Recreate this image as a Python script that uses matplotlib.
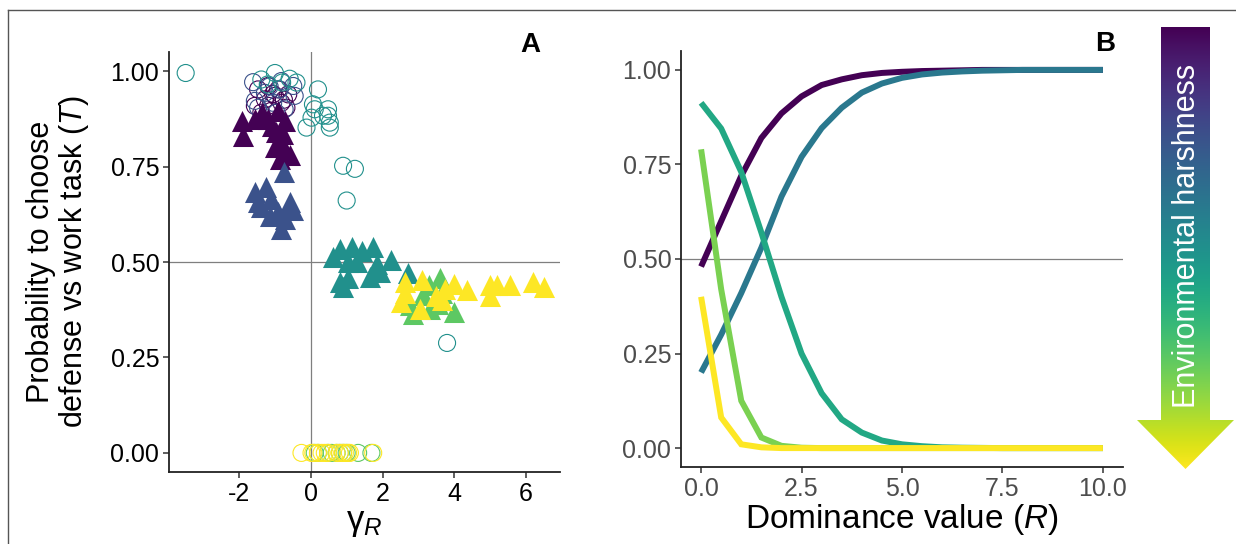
import numpy as np
import matplotlib
matplotlib.use("Agg")
import matplotlib.pyplot as plt
from matplotlib.patches import Polygon
from matplotlib.lines import Line2D

plt.rcParams['font.family'] = ['Liberation Sans', 'DejaVu Sans']
plt.rcParams['mathtext.fontset'] = 'custom'
plt.rcParams['mathtext.rm'] = 'Liberation Sans'
plt.rcParams['mathtext.it'] = 'Liberation Sans:italic'
plt.rcParams['axes.unicode_minus'] = False

# viridis levels used in the two panels
colors_a = ['#440154', '#3B528B', '#21908C', '#5DC863', '#FDE725']
colors_b = ['#440154', '#2A788E', '#22A884', '#7AD151', '#FDE725']

# Panel A: open circles (gamma_R, probability)
purple_circ_x = [-1.47, -1.19, -1.28, -1.56, -1.0, -0.82, -0.63, -1.1, -1.38, -0.91, -0.68, -1.19, -1.05, -0.75]
purple_circ_y = [0.952, 0.961, 0.926, 0.909, 0.935, 0.917, 0.939, 0.896, 0.891, 0.952, 0.904, 0.909, 0.94, 0.925]
blue_circ_x = [-1.61, -1.56, -1.28, -0.82, -0.49, -0.45, -0.73, -1.47, -1.05, -0.87, -0.96, -1.15]
blue_circ_y = [0.971, 0.922, 0.943, 0.974, 0.961, 0.935, 0.900, 0.904, 0.917, 0.952, 0.891, 0.96]
teal_circ_x = [-3.49, -1.0, -0.59, -0.4, -1.38, 0.2, 0.06, 0.11, -0.12, 0.48, 0.48, 0.53, 0.53, 0.34,
               0.02, 0.9, 1.23, 1.0, 3.8, -0.8, -1.2]
teal_circ_y = [0.995, 0.995, 0.98, 0.97, 0.978, 0.952, 0.913, 0.90, 0.852, 0.90, 0.883, 0.865, 0.852, 0.883,
               0.878, 0.752, 0.744, 0.661, 0.288, 0.97, 0.965]
green_circ_x = [0.11, 0.2, 0.48, 0.58, 0.72, 0.81, 0.9, 1.0, 1.32, 1.69]
green_circ_y = [0.0] * 10
yellow_circ_x = [-0.26, 0.02, 0.07, 0.2, 0.3, 0.39, 0.48, 0.72, 0.81, 0.9, 0.95, 1.04, 1.09, 1.74]
yellow_circ_y = [0.0] * 14

# Panel A: filled triangles
purple_tri_x = [-1.93, -1.90, -1.56, -1.37, -1.2, -0.92, -0.73, -0.98, -0.87, -0.78, -1.0, -0.73, -0.87, -0.59, -1.09]
purple_tri_y = [0.87, 0.83, 0.875, 0.89, 0.875, 0.895, 0.87, 0.84, 0.82, 0.835, 0.80, 0.79, 0.77, 0.78, 0.855]
blue_tri_x = [-0.75, -1.56, -1.24, -1.47, -1.1, -0.91, -0.59, -0.49, -0.73, -0.82, -1.15, -1.38]
blue_tri_y = [0.735, 0.683, 0.696, 0.656, 0.666, 0.63, 0.656, 0.635, 0.613, 0.587, 0.62, 0.643]
teal_tri_x = [0.81, 1.14, 1.42, 1.74, 0.62, 1.04, 1.28, 1.84, 2.25, 1.93, 1.65, 0.81, 1.04, 2.72, 0.9]
teal_tri_y = [0.534, 0.539, 0.53, 0.54, 0.513, 0.50, 0.50, 0.496, 0.504, 0.474, 0.46, 0.448, 0.457, 0.47, 0.435]
green_tri_x = [3.6, 3.14, 2.86, 3.32, 3.98, 2.77, 3.65, 3.3, 3.55]
green_tri_y = [0.457, 0.413, 0.365, 0.378, 0.37, 0.387, 0.42, 0.44, 0.39]
yellow_tri_x = [2.63, 3.09, 2.52, 3.04, 3.65, 3.74, 3.98, 4.35, 5.0, 5.19, 5.0, 5.56, 6.21, 6.49, 2.63, 3.5]
yellow_tri_y = [0.448, 0.452, 0.395, 0.378, 0.40, 0.43, 0.443, 0.426, 0.44, 0.44, 0.41, 0.44, 0.448, 0.435, 0.42, 0.41]

# Panel B: probability vs dominance value R
r_vals = [0.0, 0.5, 1.0, 1.5, 2.0, 2.5, 3.0, 3.5, 4.0, 4.5, 5.0,
          5.5, 6.0, 6.5, 7.0, 7.5, 8.0, 8.5, 9.0, 9.5, 10.0]
line_purple = [0.48, 0.60, 0.72, 0.82, 0.885, 0.93, 0.96, 0.975, 0.986, 0.992, 0.995,
               0.997, 0.998, 0.999, 1.0, 1.0, 1.0, 1.0, 1.0, 1.0, 1.0]
line_blue = [0.20, 0.30, 0.41, 0.53, 0.665, 0.77, 0.846, 0.90, 0.94, 0.964, 0.979,
             0.988, 0.993, 0.996, 0.998, 0.999, 1.0, 1.0, 1.0, 1.0, 1.0]
line_teal = [0.913, 0.845, 0.73, 0.57, 0.40, 0.25, 0.145, 0.076, 0.041, 0.02, 0.01,
             0.005, 0.002, 0.001, 0.0005, 0.0, 0.0, 0.0, 0.0, 0.0, 0.0]
line_green = [0.79, 0.42, 0.125, 0.028, 0.006, 0.001, 0.0, 0.0, 0.0, 0.0, 0.0,
              0.0, 0.0, 0.0, 0.0, 0.0, 0.0, 0.0, 0.0, 0.0, 0.0]
line_yellow = [0.40, 0.081, 0.01, 0.002, 0.0, 0.0, 0.0, 0.0, 0.0, 0.0, 0.0,
               0.0, 0.0, 0.0, 0.0, 0.0, 0.0, 0.0, 0.0, 0.0, 0.0]

W, H = 1236, 544
fig = plt.figure(figsize=(W / 100, H / 100), dpi=100)


def px(l, t, r, b):
    return [l / W, 1 - b / H, (r - l) / W, (b - t) / H]


# ---- Panel A
ax = fig.add_axes(px(169, 52, 560, 472))
ax.axhline(0.5, color='#7f7f7f', lw=0.9, zorder=0)
ax.axvline(0, color='#7f7f7f', lw=0.9, zorder=0)
circ_groups = [(purple_circ_x, purple_circ_y), (blue_circ_x, blue_circ_y), (teal_circ_x, teal_circ_y),
               (green_circ_x, green_circ_y), (yellow_circ_x, yellow_circ_y)]
tri_groups = [(purple_tri_x, purple_tri_y), (blue_tri_x, blue_tri_y), (teal_tri_x, teal_tri_y),
              (green_tri_x, green_tri_y), (yellow_tri_x, yellow_tri_y)]
for c, (x, y) in zip(colors_a, circ_groups):
    ax.scatter(x, y, s=150, facecolors='none', edgecolors=c, linewidths=0.8, zorder=2)
for c, (x, y) in zip(colors_a, tri_groups):
    ax.scatter(x, y, s=230, marker='^', color=c, linewidths=0, zorder=3)
ax.set_xlim(-3.955, 6.95)
ax.set_ylim(-0.05, 1.05)
ax.set_xticks([-2, 0, 2, 4, 6])
ax.set_xticklabels(['-2', '0', '2', '4', '6'])
ax.set_yticks([0, 0.25, 0.5, 0.75, 1.0])
ax.set_yticklabels(['0.00', '0.25', '0.50', '0.75', '1.00'])
ax.set_xlabel(r'γ$_{R}$', fontsize=25, labelpad=0)
ax.set_ylabel('Probability to choose\ndefense vs work task ($T$)', fontsize=22, labelpad=14,
              linespacing=1.05)
ax.text(0.949, 1.0, 'A', transform=ax.transAxes, fontsize=20, fontweight='bold', ha='right', va='baseline')

# ---- Panel B
bx = fig.add_axes(px(681, 51, 1123, 467))
bx.axhline(0.5, color='#7f7f7f', lw=0.9, zorder=0)
for c, vals in zip(colors_b, [line_purple, line_blue, line_teal, line_green, line_yellow]):
    bx.plot(r_vals, vals, color=c, lw=4.3, solid_capstyle='butt', solid_joinstyle='miter')
bx.set_xlim(-0.5, 10.5)
bx.set_ylim(-0.05, 1.05)
bx.set_xticks([0, 2.5, 5, 7.5, 10])
bx.set_xticklabels(['0.0', '2.5', '5.0', '7.5', '10.0'])
bx.set_yticks([0, 0.25, 0.5, 0.75, 1.0])
bx.set_yticklabels(['0.00', '0.25', '0.50', '0.75', '1.00'])
bx.set_xlabel('Dominance value ($R$)', fontsize=24, labelpad=1)
bx.text(0.982, 1.0, 'B', transform=bx.transAxes, fontsize=20, fontweight='bold', ha='right', va='baseline')

for a, tc in [(ax, 'black'), (bx, '#4d4d4d')]:
    for s in ['top', 'right']:
        a.spines[s].set_visible(False)
    for s in ['left', 'bottom']:
        a.spines[s].set_linewidth(1.3)
        a.spines[s].set_color('#222222')
    a.tick_params(labelsize=18, length=4, width=1.1, color='#333333', labelcolor=tc, pad=3)

# ---- gradient arrow and frame drawn in pixel space
ov = fig.add_axes([0, 0, 1, 1], facecolor='none')
ov.set_xlim(0, W)
ov.set_ylim(H, 0)
ov.axis('off')
arrow = Polygon([(1161, 27), (1210, 27), (1210, 420), (1234, 420), (1185.5, 469),
                 (1137, 420), (1161, 420)], closed=True, facecolor='none', edgecolor='none')
ov.add_patch(arrow)
grad = np.linspace(0, 1, 256).reshape(-1, 1)
im = ov.imshow(grad, cmap='viridis', extent=(1137, 1234, 469, 27), aspect='auto', interpolation='bilinear')
im.set_clip_path(arrow)
ov.set_xlim(0, W)
ov.set_ylim(H, 0)
ov.text(1187, 236, 'Environmental harshness', rotation=90, color='white', fontsize=22,
        ha='center', va='center')
ov.add_line(Line2D([8, W], [10, 10], color='#555555', lw=1))
ov.add_line(Line2D([8, 8], [10, H], color='#555555', lw=1))

fig.savefig('out.png', dpi=100)
